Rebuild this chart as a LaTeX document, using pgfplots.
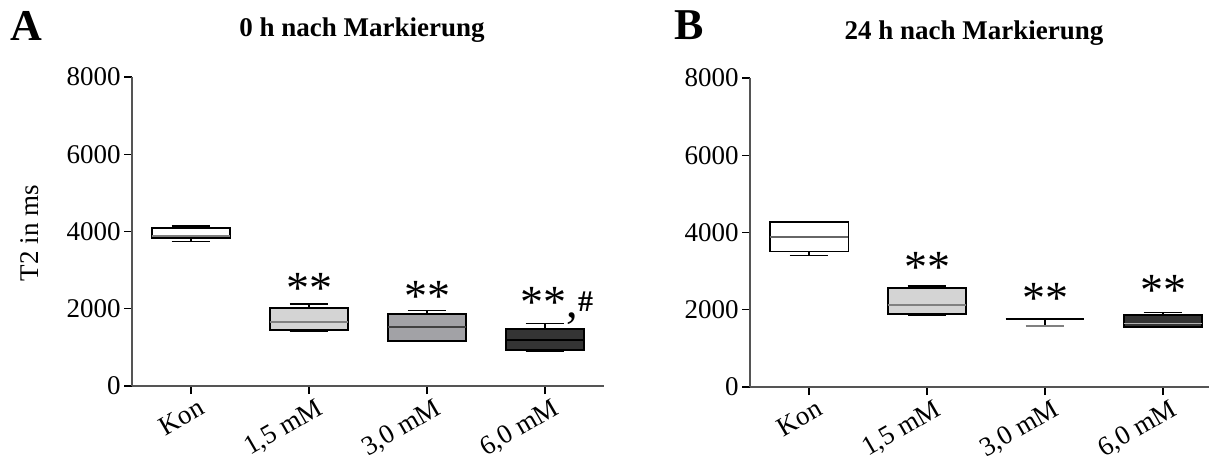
\documentclass[border=0pt]{standalone}
\usepackage{fontspec}
\setmainfont{Liberation Serif}
\usepackage{pgfplots}
\pgfplotsset{compat=1.18}

\definecolor{axisgray}{HTML}{555555}
\definecolor{boxlight}{HTML}{D4D4D4}
\definecolor{boxmid}{HTML}{A2A2A6}
\definecolor{boxdark}{HTML}{343434}

\tikzset{
  whisk/.style={black, line width=0.7pt},
  boxs/.style={draw=black, line width=1pt},
  sig/.style={font=\fontsize{23}{23}\selectfont, inner sep=0pt},
}

\pgfplotsset{
  panel/.style={
    scale only axis,
    width=236pt, height=154.5pt,
    xmin=-0.5, xmax=3.5,
    ymin=0, ymax=8000,
    ytick={0,2000,4000,6000,8000},
    xtick={0,1,2,3},
    xticklabels={Kon,{1,5 mM},{3,0 mM},{6,0 mM}},
    axis x line*=bottom, axis y line*=left,
    axis line style={axisgray, line width=0.8pt},
    tick style={black, line width=0.6pt},
    tick align=outside, major tick length=4pt,
    ticklabel style={font=\fontsize{13.5}{15}\selectfont},
    y tick label style={inner sep=1.5pt},
    x tick label style={rotate=30, anchor=north east, xshift=2.5pt, yshift=-2.5pt, inner sep=0.5pt},
    /pgf/number format/assume math mode=true,
    /pgf/number format/set thousands separator={},
    scaled y ticks=false,
    clip=false,
    unbounded coords=jump,
    every axis plot/.append style={mark=none},
  },
}

\begin{document}
\begin{tikzpicture}
\useasboundingbox (0,0) rectangle (604.5pt,230.5pt);

\node[font=\bfseries\fontsize{22}{22}\selectfont] at (13pt,217.5pt) {A};
\node[font=\bfseries\fontsize{22}{22}\selectfont] at (344.5pt,218pt) {B};
\node[rotate=90, font=\fontsize{13.5}{15}\selectfont] at (15pt,114pt) {T2 in ms};
\node[font=\bfseries\fontsize{13.5}{15}\selectfont] at (181pt,215.5pt) {0 h nach Markierung};
\node[font=\bfseries\fontsize{13.5}{15}\selectfont] at (487pt,214pt) {24 h nach Markierung};

% panel A: 0 h
\begin{axis}[panel, at={(66pt,37.5pt)}, anchor=south west]
% Kon
\addplot[whisk] coordinates {(-0.165,4144) (0.165,4144) (nan,nan) (0,4144) (0,4101) (nan,nan) (0,3831) (0,3746) (nan,nan) (-0.165,3746) (0.165,3746)};
\addplot[boxs, fill=white] coordinates {(-0.333,3831) (0.333,3831) (0.333,4101) (-0.333,4101)} -- cycle;
\addplot[gray, line width=0.9pt] coordinates {(-0.333,3890) (0.333,3890)};
% 1,5 mM
\addplot[whisk] coordinates {(0.835,2123) (1.165,2123) (nan,nan) (1,2123) (1,2013) (nan,nan) (1,1438) (1,1404) (nan,nan) (0.835,1404) (1.165,1404)};
\addplot[boxs, fill=boxlight] coordinates {(0.667,1438) (1.333,1438) (1.333,2013) (0.667,2013)} -- cycle;
\addplot[gray, line width=0.9pt] coordinates {(0.667,1666) (1.333,1666)};
% 3,0 mM
\addplot[whisk] coordinates {(1.835,1953) (2.165,1953) (nan,nan) (2,1953) (2,1860) (nan,nan) (2,1175) (2,1167) (nan,nan) (1.835,1167) (2.165,1167)};
\addplot[boxs, fill=boxmid] coordinates {(1.667,1175) (2.333,1175) (2.333,1860) (1.667,1860)} -- cycle;
\addplot[black!75, line width=0.9pt] coordinates {(1.667,1531) (2.333,1531)};
% 6,0 mM
\addplot[whisk] coordinates {(2.835,1617) (3.165,1617) (nan,nan) (3,1617) (3,1465) (nan,nan) (3,926) (3,901) (nan,nan) (2.835,901) (3.165,901)};
\addplot[boxs, fill=boxdark] coordinates {(2.667,926) (3.333,926) (3.333,1465) (2.667,1465)} -- cycle;
\addplot[black, line width=0.9pt] coordinates {(2.667,1187) (3.333,1187)};
\node[sig] at (axis cs:1,2530) {**};
\node[sig] at (axis cs:2,2320) {**};
\node[sig] at (axis cs:3.1,2070) {**,\raisebox{0.3ex}{\bfseries\fontsize{15}{15}\selectfont\#}};
\end{axis}

% panel B: 24 h
\begin{axis}[panel, at={(375pt,37pt)}, anchor=south west]
% Kon
\addplot[whisk] coordinates {(-0.165,4266) (0.165,4266) (nan,nan) (0,3513) (0,3411) (nan,nan) (-0.165,3411) (0.165,3411)};
\addplot[boxs, fill=white, line width=0.8pt] coordinates {(-0.333,3513) (0.333,3513) (0.333,4266) (-0.333,4266)} -- cycle;
\addplot[gray!80!black, line width=0.9pt] coordinates {(-0.333,3885) (0.333,3885)};
% 1,5 mM
\addplot[whisk] coordinates {(0.835,2615) (1.165,2615) (nan,nan) (1,2615) (1,2573) (nan,nan) (1,1896) (1,1862) (nan,nan) (0.835,1862) (1.165,1862)};
\addplot[boxs, fill=boxlight] coordinates {(0.667,1896) (1.333,1896) (1.333,2573) (0.667,2573)} -- cycle;
\addplot[gray, line width=0.9pt] coordinates {(0.667,2124) (1.333,2124)};
% 3,0 mM (quartiles and median coincide)
\addplot[whisk] coordinates {(2,1760) (2,1574)};
\addplot[gray, line width=1pt] coordinates {(1.835,1574) (2.165,1574)};
\addplot[black, line width=0.8pt] coordinates {(1.667,1760) (2.333,1760)};
% 6,0 mM
\addplot[whisk] coordinates {(2.835,1930) (3.165,1930) (nan,nan) (3,1930) (3,1862) (nan,nan) (3,1549) (3,1540) (nan,nan) (2.835,1540) (3.165,1540)};
\addplot[boxs, fill=boxdark] coordinates {(2.667,1549) (3.333,1549) (3.333,1862) (2.667,1862)} -- cycle;
\addplot[gray!60, line width=0.9pt] coordinates {(2.667,1642) (3.333,1642)};
\node[sig] at (axis cs:1,3100) {**};
\node[sig] at (axis cs:2,2290) {**};
\node[sig] at (axis cs:3,2500) {**};
\end{axis}
\end{tikzpicture}
\end{document}
